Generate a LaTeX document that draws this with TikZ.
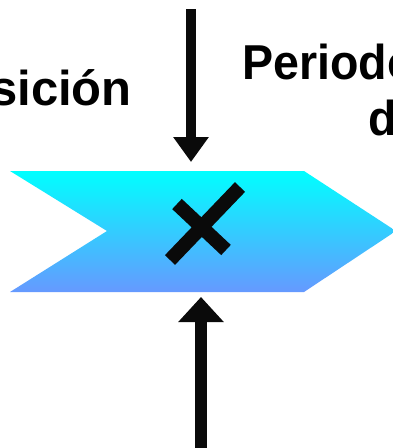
\documentclass[tikz,border=0pt]{standalone}
\usepackage{fontspec}
\setmainfont{Liberation Sans}
\usetikzlibrary{arrows.meta}
\definecolor{bandlow}{RGB}{102,153,255}
\begin{document}
\begin{tikzpicture}[x=1pt,y=-1pt,line join=miter,font=\fontsize{49}{58}\selectfont\bfseries,
  lbl/.style={inner sep=0pt},
  feed/.style={line width=#1,draw=black!96}]
\useasboundingbox (0,0) rectangle (393,448);
\shade[top color=cyan,bottom color=bandlow] (10,171)--(304,171)--(396,231)--(304,292)--(10,292)--(107,231)--cycle;
\coordinate (mixT) at (191,162);
\coordinate (mixB) at (201,297);
\coordinate (srcT) at (191,9);
\coordinate (srcB) at (201,448);
\draw[feed=10pt,-{Triangle[width=34pt,length=25pt]}] (srcT)--(mixT);
\draw[feed=12pt,-{Triangle[width=44pt,length=25pt]}] (srcB)--(mixB);
% signo de producto
\draw[feed=14pt] (170,260)--(240,187) (177,204)--(226,250);
\node[lbl,anchor=base west] (period) at (242,79) {\scalebox{0.95}[1]{Periodo}};
\node[lbl,anchor=base east] (posic) at (132,105) {sición};
\node[lbl,anchor=base west] (period2) at (368,135) {\scalebox{0.95}[1]{d}};
\end{tikzpicture}
\end{document}
